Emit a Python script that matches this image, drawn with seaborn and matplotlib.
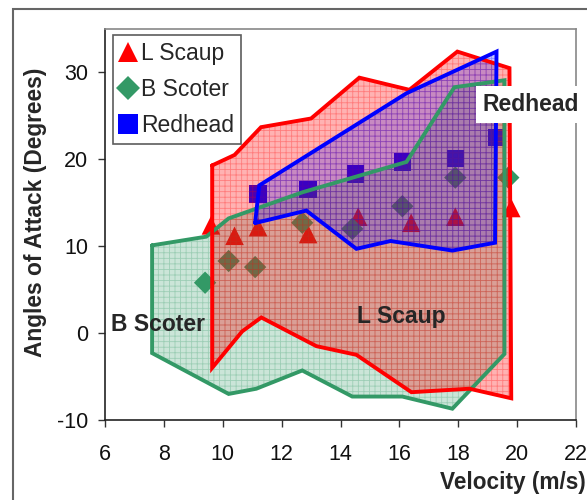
import matplotlib
matplotlib.use("Agg")
import matplotlib.pyplot as plt
import seaborn as sns
import pandas as pd
from matplotlib.patches import Rectangle

# Marker data (velocity m/s, angle of attack deg)
scaup_v = [9.6, 10.4, 11.2, 12.9, 14.6, 16.4, 17.9, 19.8]
scaup_a = [12.4, 11.2, 12.2, 11.4, 13.4, 12.7, 13.4, 14.4]
scoter_v = [9.4, 10.2, 11.1, 12.7, 14.4, 16.1, 17.9, 19.7]
scoter_a = [5.8, 8.3, 7.6, 12.7, 12.0, 14.6, 17.9, 17.9]
redhead_v = [11.2, 12.9, 14.5, 16.1, 17.9, 19.3]
redhead_a = [16.0, 16.5, 18.3, 19.7, 20.1, 22.5]

# Envelope outlines (closed polygons)
scaup_env_v = [9.64, 10.4, 11.3, 13.0, 14.64, 16.34, 17.97, 19.74, 19.8,
               18.38, 16.41, 14.54, 13.18, 11.31, 10.66, 9.64]
scaup_env_a = [19.3, 20.5, 23.7, 24.7, 29.4, 28.0, 32.4, 30.5, -7.5,
               -6.4, -6.8, -2.5, -1.5, 1.8, 0.2, -4.0]
scoter_env_v = [7.6, 9.44, 10.2, 12.7, 16.24, 17.87, 19.57, 19.57,
                17.8, 16.1, 14.4, 12.7, 11.14, 10.2, 7.6]
scoter_env_a = [10.1, 11.1, 13.2, 16.2, 19.7, 28.3, 29.1, -2.4,
                -8.7, -7.3, -7.3, -4.3, -6.4, -7.0, -2.3]
redhead_env_v = [11.1, 11.24, 16.24, 19.3, 19.25, 17.8, 15.7, 14.54,
                 12.84, 11.14]
redhead_env_a = [12.7, 17.0, 27.6, 32.4, 10.4, 9.5, 10.6, 9.7, 14.1, 12.7]

points = pd.concat([
    pd.DataFrame({"v": scaup_v, "a": scaup_a, "species": "L Scaup"}),
    pd.DataFrame({"v": scoter_v, "a": scoter_a, "species": "B Scoter"}),
    pd.DataFrame({"v": redhead_v, "a": redhead_a, "species": "Redhead"}),
])

sns.set_style("ticks")
plt.rcParams["font.family"] = ["Liberation Sans", "DejaVu Sans"]
plt.rcParams["hatch.linewidth"] = 0.6
plt.rcParams["axes.unicode_minus"] = False

palette = {"L Scaup": "#ff0000", "B Scoter": "#339966", "Redhead": "#0000ff"}
markers = {"L Scaup": "^", "B Scoter": "D", "Redhead": "s"}
sizes = {"L Scaup": 180, "B Scoter": 130, "Redhead": 155}

fig = plt.figure(figsize=(5.87, 5.0), dpi=100)
ax = fig.add_axes([105 / 587, 1 - 420 / 500, 471 / 587, 391 / 500])

sns.scatterplot(data=points, x="v", y="a", hue="species", style="species",
                size="species", sizes=sizes, palette=palette, markers=markers,
                linewidth=0, ax=ax, zorder=2)

# Envelopes: translucent fill, grid hatch, solid outline
envs = [
    (scoter_env_v, scoter_env_a, "#339966", 0.25),
    (scaup_env_v, scaup_env_a, "#ff0000", 0.3),
    (redhead_env_v, redhead_env_a, "#0000ff", 0.22),
]
for ev, ea, col, alpha in envs:
    ax.fill(ev, ea, facecolor=col, alpha=alpha, edgecolor="none", zorder=3)
    ax.fill(ev, ea, facecolor="none", edgecolor=col, alpha=0.3,
            hatch="+++", linewidth=0, zorder=3)
    ax.plot(ev + ev[:1], ea + ea[:1], color=col, lw=2.8, zorder=4,
            solid_joinstyle="miter")

# species labels
ax.text(6.22, 0.95, "B Scoter", fontsize=16.5, fontweight="bold", zorder=6,
        va="center")
ax.text(14.55, 1.9, "L Scaup", fontsize=16.5, fontweight="bold", zorder=6,
        va="center")
ax.text(18.84, 26.3, "Redhead", fontsize=16.5, fontweight="bold", zorder=6,
        va="center", clip_on=False,
        bbox=dict(facecolor="white", edgecolor="none", pad=5))

ax.set_xlim(6, 22)
ax.set_ylim(-10, 35)
ax.set_xticks(range(6, 23, 2))
ax.set_yticks([-10, 0, 10, 20, 30])
ax.tick_params(labelsize=15.5, length=5, width=1, color="#333333",
               labelcolor="#111111")
ax.tick_params(axis="x", pad=12)
ax.tick_params(axis="y", pad=7)
ax.set_xlabel("Velocity (m/s)", fontsize=16.3, fontweight="bold",
              ha="right", va="center")
ax.xaxis.set_label_coords(1.021, -0.159)
ax.set_ylabel("Angles of Attack (Degrees)", fontsize=16.4, fontweight="bold",
              va="center")
ax.yaxis.set_label_coords(-0.148, 0.532)

for side in ["left", "bottom"]:
    ax.spines[side].set_color("#222222")
    ax.spines[side].set_linewidth(1.2)
for side in ["top", "right"]:
    ax.spines[side].set_color("#888888")
    ax.spines[side].set_linewidth(1.2)

leg = ax.legend(loc="upper left", bbox_to_anchor=(0.0164, 0.985),
                fontsize=16.5, frameon=True, fancybox=False,
                edgecolor="#333333", handletextpad=0.2, handlelength=0.75,
                labelspacing=0.58, borderpad=0.3, borderaxespad=0,
                markerscale=1.1)
leg.get_frame().set_linewidth(1.2)
leg.set_zorder(10)

# outer chart frame
fig.patches.append(Rectangle((13 / 587, -0.1), 1.0, 1.1 - 9 / 500,
                             transform=fig.transFigure, fill=False,
                             edgecolor="#666666", lw=1.5))

fig.savefig("out.png", dpi=100)
